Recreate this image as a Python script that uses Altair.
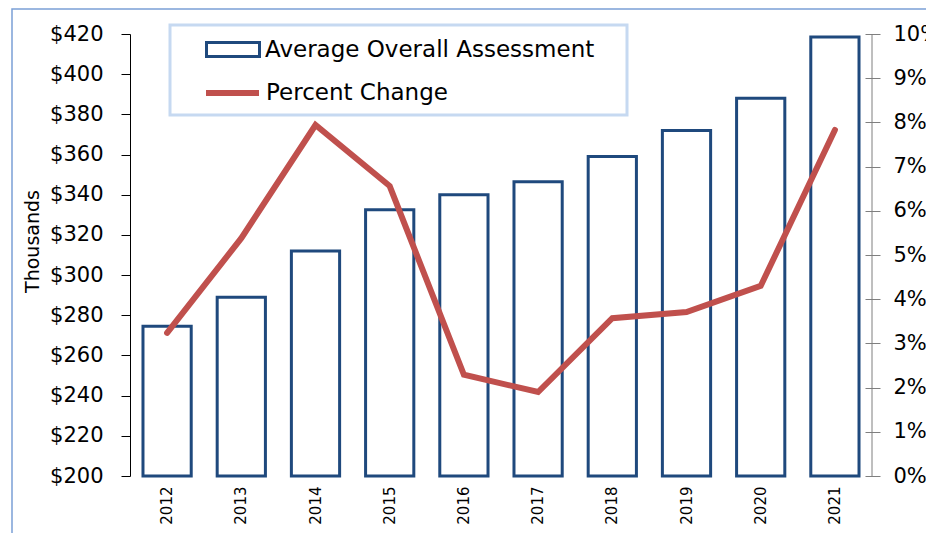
import altair as alt
import pandas as pd

years = ["2012", "2013", "2014", "2015", "2016", "2017", "2018", "2019", "2020", "2021"]
assessment = [274.5, 289, 312, 332.5, 340, 346.5, 359, 372, 388, 418.5]
pct_change = [0.0324, 0.0538, 0.0794, 0.0656, 0.0229, 0.019, 0.0357, 0.0371, 0.043, 0.0783]
left_ticks = [200, 220, 240, 260, 280, 300, 320, 340, 360, 380, 400, 420]
right_ticks = [0, 0.01, 0.02, 0.03, 0.04, 0.05, 0.06, 0.07, 0.08, 0.09, 0.10]
bar_name = "Average Overall Assessment"
line_name = "Percent Change"

FONT = "DejaVu Sans"
BLUE = "#1f497d"
RED = "#c0504d"
GRAY = "#7f7f7f"

df = pd.DataFrame({"year": years, "value": assessment, "pct": pct_change,
                   "bar_s": bar_name, "line_s": line_name})

x_enc = alt.X("year:N", sort=years, title=None,
              scale=alt.Scale(paddingInner=0.35, paddingOuter=0.175),
              axis=alt.Axis(labelAngle=-90, labelFontSize=15, labelFont=FONT, labelColor="#000",
                            labelPadding=10, domain=False, ticks=False, labelAlign="right",
                            labelBaseline="middle"))

bars = alt.Chart(df).mark_bar(fill="white", strokeWidth=3).encode(
    x=x_enc,
    y=alt.Y("value:Q", scale=alt.Scale(domain=[200, 420], zero=False, nice=False),
            title="Thousands",
            axis=alt.Axis(values=left_ticks, format="$,.0f", labelFontSize=21, labelFont=FONT,
                          labelColor="#000", labelPadding=18, tickSize=9, tickColor="#000",
                          domainColor="#000", grid=False, titleFont=FONT, titleFontSize=19,
                          titleFontWeight="normal", titleColor="#000", titleX=-98, titleY=207,
                          titleAngle=270, titleAlign="center", titleBaseline="middle")),
    y2=alt.datum(200),
    stroke=alt.Stroke("bar_s:N", scale=alt.Scale(range=[BLUE]),
                      legend=alt.Legend(title=None, orient="none", legendX=75, legendY=-12.5,
                                        symbolType="M-1,-0.26H1V0.26H-1Z", symbolSize=2809,
                                        symbolStrokeWidth=3, symbolFillColor="white",
                                        symbolStrokeColor=BLUE, labelFont=FONT, labelFontSize=23,
                                        labelColor="#000", labelOffset=4, labelLimit=600,
                                        padding=0)),
)

line = alt.Chart(df).mark_line(strokeWidth=6, strokeCap="round").encode(
    x=alt.X("year:N", sort=years),
    y=alt.Y("pct:Q", scale=alt.Scale(domain=[0, 0.1], nice=False), title=None,
            axis=alt.Axis(orient="right", values=right_ticks, format=".0%", labelFontSize=21,
                          labelFont=FONT, labelColor="#000", labelPadding=13, tickSize=15,
                          offset=-7, tickColor=GRAY, domain=False, grid=False)),
    color=alt.Color("line_s:N", scale=alt.Scale(range=[RED]),
                    legend=alt.Legend(title=None, orient="none", legendX=73, legendY=29.5,
                                      symbolType="stroke", symbolSize=2809, symbolStrokeWidth=6,
                                      symbolStrokeColor=RED, labelFont=FONT, labelFontSize=23,
                                      labelColor="#000", labelOffset=4, labelLimit=600,
                                      padding=0)),
)

one = pd.DataFrame({"a": [0]})
right_domain = alt.Chart(one).mark_rule(stroke=GRAY, strokeWidth=1).encode(
    x=alt.value(742), y=alt.value(0), y2=alt.value(442))
frame = alt.Chart(one).mark_rect(fill=None, stroke="#7ba0d6", strokeWidth=1.5).encode(
    x=alt.value(-118), x2=alt.value(830), y=alt.value(-25), y2=alt.value(540))
legend_box = alt.Chart(one).mark_rect(fill=None, stroke="#c6d9f1", strokeWidth=3).encode(
    x=alt.value(40), x2=alt.value(497), y=alt.value(-9), y2=alt.value(81))

chart = alt.layer(frame, bars, line, right_domain, legend_box).resolve_scale(
    y="independent", stroke="independent", color="independent"
).properties(
    width=742, height=442,
    autosize=alt.AutoSizeParams(type="none"),
    padding={"left": 122, "top": 26, "right": 54, "bottom": 57},
    background="white",
).configure_view(stroke=None)

chart.save("out.html", embed_options={"renderer": "svg", "actions": False})
